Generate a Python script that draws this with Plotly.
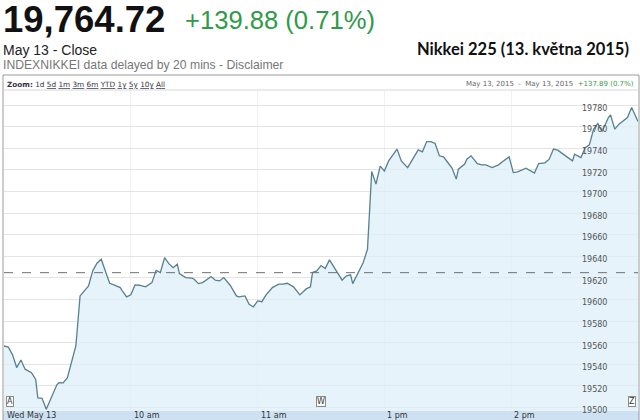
import plotly.graph_objects as go

# ---------------- data ----------------
times = ["09:00","09:02","09:04","09:06","09:08","09:10","09:13","09:15","09:16","09:18",
         "09:20","09:23","09:25","09:26","09:28","09:30","09:32","09:34","09:36","09:38",
         "09:40","09:42","09:44","09:46","09:48","09:50","09:52","09:55","09:56","09:58",
         "10:00","10:02","10:04","10:07","10:10","10:12","10:14","10:16","10:18","10:20",
         "10:22","10:23","10:26","10:29","10:30","10:32","10:34","10:38","10:40","10:42",
         "10:44","10:47","10:50","10:51","10:54","10:56","10:58","11:00","11:02","11:04",
         "11:07","11:10","11:12","11:14","11:17","11:20","11:23","11:25","11:26","11:28",
         "11:30","12:32","12:34","12:36","12:38","12:40","12:42","12:44","12:45","12:48",
         "12:50","12:52","12:54","12:56","12:58","13:00","13:02","13:06","13:08","13:11",
         "13:14","13:16","13:18","13:20","13:22","13:24","13:26","13:28","13:30","13:32",
         "13:34","13:35","13:38","13:39","13:41","13:44","13:46","13:48","13:51","13:54",
         "13:56","13:59","14:01","14:03","14:07","14:09","14:11","14:13","14:16","14:18",
         "14:20","14:22","14:24","14:26","14:29","14:30","14:33","14:35","14:37","14:39",
         "14:41","14:43","14:46","14:47","14:49","14:51","14:55","14:57","15:00"]
values = [19557,19556,19549,19537,19544,19535.5,19532.3,19526,19509,19508.6,
          19498.4,19512.3,19521,19523,19522.8,19527.7,19541.6,19557,19603.3,19608,
          19612.6,19626.5,19633.6,19637.3,19626.5,19615,19613.5,19611,19608,19602.4,
          19604.3,19613.5,19613.2,19611.7,19615.6,19627,19625,19638.8,19633.2,19629.5,
          19632.7,19624,19620.3,19619.7,19618.8,19614.7,19615.6,19621.2,19617.9,19617.2,
          19620.3,19613.2,19603.3,19602.4,19603.3,19595.6,19593.1,19598.7,19598,19604.3,
          19611,19614.2,19614.2,19615,19611.7,19604.3,19609.8,19611.7,19625,19626.5,
          19631.4,19628.6,19636.7,19630.2,19625,19617.9,19621.9,19622.8,19614.7,19626.5,
          19634.2,19646.6,19718.4,19706.8,19723.4,19719,19728.3,19739.2,19728.3,19722.1,
          19731.4,19738.5,19736.7,19746.2,19746.2,19744.4,19733,19732,19726.8,19721.6,
          19711.4,19720.6,19725.3,19729.9,19733,19725.8,19724.6,19724.6,19722.1,19724.6,
          19727.7,19732,19717.5,19718.1,19721.6,19719,19717,19725.8,19726.5,19729.9,
          19739.2,19738.2,19735.5,19733,19728.3,19734.5,19731.4,19740.6,19743.1,19757.7,
          19762.9,19755.5,19768.4,19770.9,19757.7,19762.3,19768.4,19777.7,19764.72]
prev_close = 19624.84
tick_times = ["09:00", "10:00", "11:00", "13:00", "14:00"]
tick_labels = ["Wed May 13", "10 am", "11 am", "1 pm", "2 pm"]
flag_times = ["09:03", "11:30", "14:57"]
flag_labels = ["A", "W", "Z"]

# trading-time axis: lunch break 11:30-12:30 removed
def tmin(s):
    h, m = map(int, s.split(":"))
    t = h * 60 + m - 540
    if t >= 210:
        t -= 60
    return t

xs = [tmin(t) for t in times]

# ---------------- layout geometry ----------------
W, H = 640, 420
L, R, T, B = 4, 2, 90, 9
PW, PH = W - L - R, H - T - B

def px(x):
    return (x - L) / PW

def py(y):
    return (H - B - y) / PH

fig = go.Figure()
fig.add_trace(go.Scatter(
    x=xs, y=values, mode="lines",
    line=dict(color="#56808f", width=1.3),
    fill="tozeroy", fillcolor="rgba(222,239,250,0.75)",
    hoverinfo="skip", showlegend=False))

shapes = [
    dict(type="line", xref="paper", yref="y", x0=0, x1=1, y0=prev_close, y1=prev_close,
         line=dict(color="#707070", width=1, dash="dash")),
    dict(type="rect", xref="paper", yref="paper", x0=px(3), x1=px(639), y0=py(420), y1=py(411),
         fillcolor="#cde1f2", line=dict(width=0), layer="below"),
    dict(type="rect", xref="paper", yref="paper", x0=px(3), x1=px(639), y0=py(421), y1=py(75),
         fillcolor="rgba(0,0,0,0)", line=dict(color="#9a9a9a", width=1)),
    dict(type="line", xref="paper", yref="paper", x0=px(3), x1=px(639), y0=py(90), y1=py(90),
         line=dict(color="#d8d8d8", width=1)),
]

ann = []
def txt(text, x, y, size, color="#000", family="Liberation Sans, Arial", xanchor="left", bold=False):
    ann.append(dict(text=("<b>%s</b>" % text) if bold else text, xref="paper", yref="paper",
                    x=px(x), y=py(y), xanchor=xanchor, yanchor="middle", showarrow=False,
                    font=dict(size=size, color=color, family=family)))

txt("19,764.72", 1, 20, 36.5, "#111", bold=True)
txt("+139.88 (0.71%)", 183, 20, 25.6, "#2f9a48")
txt("May 13 - Close", 1, 50, 14, "#222")
txt("INDEXNIKKEI data delayed by 20 mins - Disclaimer", 1, 65, 12.2, "#777")
txt("Nikkei 225 (13. května 2015)", 631, 49, 16.5, "#111", family="Lato", xanchor="right", bold=True)

u = "<span style='text-decoration:underline'>%s</span>"
zoom_txt = "<b>Zoom:</b> 1d " + " ".join(u % z for z in ["5d", "1m", "3m", "6m", "YTD", "1y", "5y", "10y", "All"])
txt(zoom_txt, 5, 84, 7.3, "#334", family="DejaVu Sans")
txt("May 13, 2015 &nbsp;-&nbsp; May 13, 2015 &nbsp;<span style='color:#3a9a4a'>+137.89 (0.7%)</span>", 636, 84, 7,
    "#666", family="DejaVu Sans", xanchor="right")

for t, lab in zip(tick_times, tick_labels):
    ann.append(dict(text=lab, xref="x", yref="paper", x=tmin(t), y=py(416), xanchor="left",
                    yanchor="middle", showarrow=False, xshift=1,
                    font=dict(size=8, color="#333", family="DejaVu Sans")))

for t, lab in zip(flag_times, flag_labels):
    ann.append(dict(text=lab, xref="x", yref="paper", x=tmin(t), y=py(401), xanchor="center",
                    yanchor="middle", showarrow=False, bgcolor="white", bordercolor="#8a8a8a",
                    borderwidth=1, borderpad=0,
                    font=dict(size=8, color="#333", family="DejaVu Sans")))

fig.update_layout(
    width=W, height=H, margin=dict(l=L, r=R, t=T, b=B),
    paper_bgcolor="white", plot_bgcolor="white",
    shapes=shapes, annotations=ann,
    xaxis=dict(range=[0, 300], tickvals=[tmin(t) for t in tick_times[1:]], showticklabels=False,
               showgrid=True, gridcolor="#f1f1f1", zeroline=False, showline=False, ticks=""),
    yaxis=dict(range=[19496.8, 19793.9], dtick=20, tick0=19500, side="right", anchor="free",
               position=px(581), showgrid=True, gridcolor="#e4e4e4", zeroline=False, showline=False,
               ticks="", ticklabelshift=3, tickformat="d",
               tickfont=dict(size=8, color="#555", family="DejaVu Sans")),
)

fig.write_html("out.html", config={"displayModeBar": False},
               post_script="document.body.style.margin='0px';document.body.style.overflow='hidden';")
